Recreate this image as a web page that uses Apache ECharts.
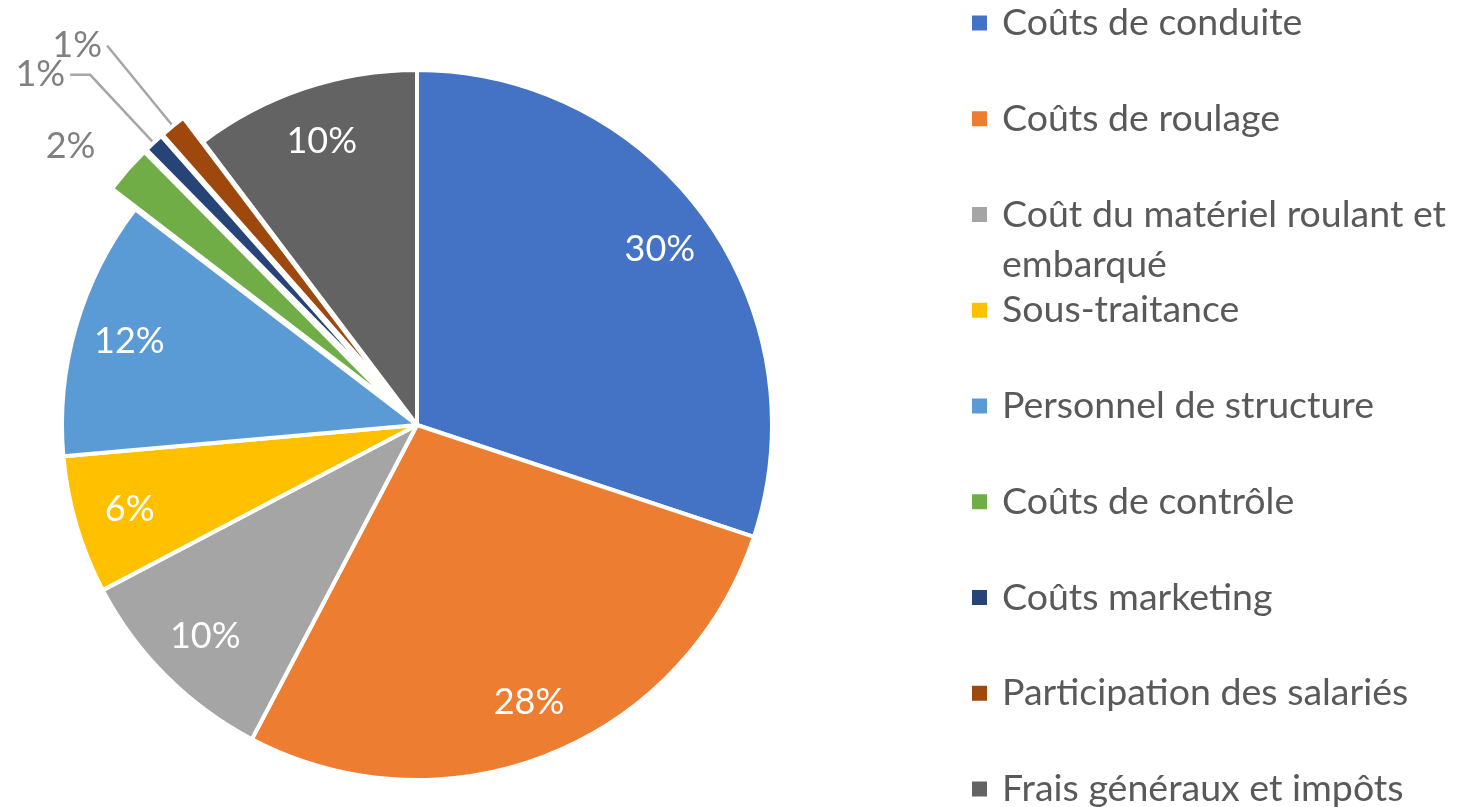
<!DOCTYPE html>
<html>
<head>
<meta charset="utf-8">
<script src="https://cdn.jsdelivr.net/npm/echarts@6/dist/echarts.min.js"></script>
<style>
  html, body { margin: 0; padding: 0; background: #fff; }
  #chart { width: 1458px; height: 807px; }
</style>
</head>
<body>
<div id="chart"></div>
<script>
// répartition des coûts (en %)
const categories = [
  'Coûts de conduite',
  'Coûts de roulage',
  'Coût du matériel roulant et embarqué',
  'Sous-traitance',
  'Personnel de structure',
  'Coûts de contrôle',
  'Coûts marketing',
  'Participation des salariés',
  'Frais généraux et impôts'
]
const values = [30.1, 27.6, 9.6, 6.3, 11.8, 2.2, 0.9, 1.2, 10.3]
const colors = ['#4472C4', '#ED7D31', '#A5A5A5', '#FFC000', '#5B9BD5', '#70AD47', '#264478', '#9E480E', '#636363']

const FONT = 'Lato'
const R = 355
const CENTER = [417, 425]
const isSmall = v => v < 3
const pct = p => Math.round(p.percent) + '%'

// lignes de rappel des petites parts
const smallLines = {
  5: { length: 36, length2: 0, show: false },
  6: { length: 93, length2: 20, show: true },
  7: { length: 104, length2: 0, show: true }
}

const mainData = categories.map((name, i) => ({
  name,
  value: values[i],
  selected: isSmall(values[i]),
  itemStyle: { color: colors[i] },
  label: { show: isSmall(values[i]) },
  labelLine: smallLines[i] || { show: false }
}))

const innerLabelData = categories.map((name, i) => ({
  name,
  value: values[i],
  label: { show: !isSmall(values[i]) }
}))

const chart = echarts.init(document.getElementById('chart'))

chart.setOption({
  animation: false,
  legend: categories.map((name, i) => {
    const twoLines = name.length > 30
    return {
      data: [name],
      orient: 'vertical',
      left: 967,
      top: (twoLines ? -80 : -30) + 23 + i * 95.75,
      icon: 'rect',
      itemWidth: 15,
      itemHeight: 15,
      itemStyle: { borderWidth: 0 },
      selectedMode: false,
      // ligne vide en tête pour garder le carré face à la première ligne
      formatter: n => twoLines ? ' \n' + n.replace('roulant et ', 'roulant et\n') : n,
      textStyle: {
        fontFamily: FONT,
        fontSize: 37.5,
        color: '#595959',
        lineHeight: 50,
        padding: [0, 0, 0, 10]
      }
    }
  }),
  series: [
    {
      type: 'pie',
      center: CENTER,
      radius: R,
      startAngle: 90,
      clockwise: true,
      selectedMode: 'multiple',
      selectedOffset: 31,
      avoidLabelOverlap: false,
      silent: true,
      itemStyle: { borderColor: '#fff', borderWidth: 4 },
      label: {
        position: 'outside',
        formatter: pct,
        fontFamily: FONT,
        fontSize: 36,
        lineHeight: 30,
        color: '#808080'
      },
      labelLine: { lineStyle: { color: '#a6a6a6', width: 2.5 } },
      labelLayout: { hideOverlap: false },
      emphasis: { disabled: true },
      data: mainData
    },
    {
      // couche transparente pour placer les pourcentages vers le bord
      type: 'pie',
      center: CENTER,
      radius: [238, R],
      startAngle: 90,
      clockwise: true,
      silent: true,
      itemStyle: { color: 'rgba(0,0,0,0)' },
      label: {
        position: 'inside',
        formatter: pct,
        fontFamily: FONT,
        fontSize: 36,
        color: '#fff'
      },
      labelLine: { show: false },
      emphasis: { disabled: true },
      data: innerLabelData
    }
  ]
})
</script>
</body>
</html>
